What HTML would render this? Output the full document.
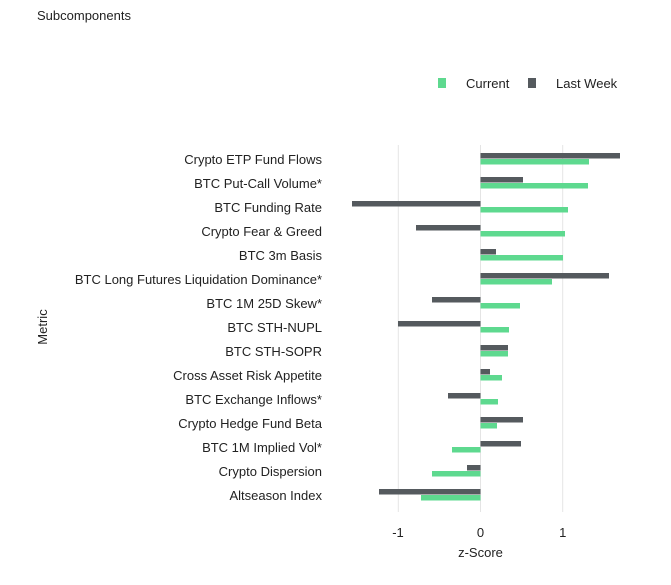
<!DOCTYPE html><html><head><style>body{margin:0;background:#fff}</style></head><body>
<svg width="671" height="580" xmlns="http://www.w3.org/2000/svg" font-family="Liberation Sans, sans-serif" fill="#222">
<text x="37" y="20" font-size="13">Subcomponents</text>
<rect x="438" y="78" width="8" height="10" fill="#5ed98f"/><text x="466" y="88" font-size="13">Current</text>
<rect x="528" y="78" width="8" height="10" fill="#555a5e"/><text x="556" y="88" font-size="13">Last Week</text>
<g stroke="#e4e4e4" stroke-width="1"><line x1="398.3" y1="145" x2="398.3" y2="512"/><line x1="480.5" y1="145" x2="480.5" y2="512"/><line x1="562.7" y1="145" x2="562.7" y2="512"/></g>
<g font-size="13" text-anchor="middle"><text x="398" y="537">-1</text><text x="480.5" y="537">0</text><text x="562.7" y="537">1</text></g>
<text x="480.5" y="557" font-size="13" text-anchor="middle">z-Score</text>
<text transform="translate(47,327) rotate(-90)" font-size="13" text-anchor="middle">Metric</text>
<g id="rows"></g>
</svg>
<script>
var d=[["Crypto ETP Fund Flows",620,589],["BTC Put-Call Volume*",523,588],["BTC Funding Rate",352,568],["Crypto Fear & Greed",416,565],["BTC 3m Basis",496,563],["BTC Long Futures Liquidation Dominance*",609,552],["BTC 1M 25D Skew*",432,520],["BTC STH-NUPL",398,509],["BTC STH-SOPR",508,508],["Cross Asset Risk Appetite",490,502],["BTC Exchange Inflows*",448,498],["Crypto Hedge Fund Beta",523,497],["BTC 1M Implied Vol*",521,452],["Crypto Dispersion",467,432],["Altseason Index",379,421]];
var g=document.getElementById("rows"),ns="http://www.w3.org/2000/svg",z=480.5,h="";
d.forEach(function(r,i){var c=159+24*i;
var a=Math.min(z,r[1]),b=Math.min(z,r[2]);
h+='<rect x="'+a+'" y="'+(c-6)+'" width="'+Math.abs(r[1]-z)+'" height="5.5" fill="#555a5e"/>';
h+='<rect x="'+b+'" y="'+(c)+'" width="'+Math.abs(r[2]-z)+'" height="5.5" fill="#5ed98f"/>';
h+='<text x="322" y="'+(c+5)+'" font-size="13" text-anchor="end">'+r[0].replace("&","&amp;")+'</text>';});
g.innerHTML=h;
</script>
</body></html>
